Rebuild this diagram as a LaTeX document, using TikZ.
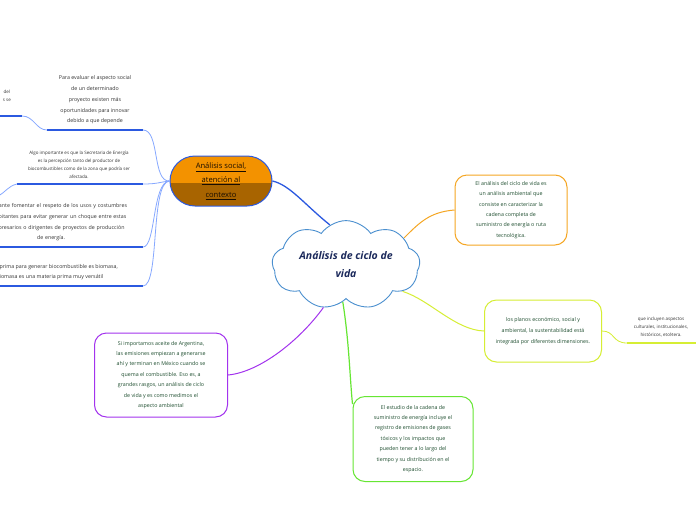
\documentclass[tikz,border=0pt]{standalone}
\usepackage{fontspec}
\setmainfont{Open Sans}
\usetikzlibrary{shapes.symbols,shapes.misc,calc}
\definecolor{ublue}{HTML}{2B59E0}
\definecolor{lblue}{HTML}{86A8FF}
\definecolor{corange}{HTML}{F5A623}
\definecolor{clime}{HTML}{D6EE34}
\definecolor{cgreen}{HTML}{66E633}
\definecolor{cpurple}{HTML}{A333EE}
\definecolor{ccloud}{HTML}{4A8FCF}
\definecolor{otop}{HTML}{F39200}
\definecolor{obot}{HTML}{A86400}
\definecolor{tgreen}{HTML}{1D4D2E}
\definecolor{tgray}{HTML}{333333}
\definecolor{tnavy}{HTML}{1C2A5C}
\tikzset{
  leaftext/.style={align=center,text=tgray,font=\fontsize{5.3}{10.7}\selectfont,inner sep=0pt},
  smalltext/.style={align=center,text=tgray,font=\fontsize{4.5}{8}\selectfont,inner sep=0pt},
  topicbox/.style={draw,line width=1pt,rounded corners=12pt,align=center,text=tgreen,inner sep=0pt,
     font=\fontsize{5.3}{10.4}\selectfont},
  uline/.style={ublue,line width=1.6pt},
  fanline/.style={lblue,line width=0.8pt},
}
\begin{document}
\begin{tikzpicture}[x=1pt,y=-1pt]
\fill[white] (0,0) rectangle (696,520);
\useasboundingbox (0,0) rectangle (696,520);
\clip (0,0) rectangle (696,520);

% central cloud
\node[cloud, cloud puffs=9, cloud puff arc=110, aspect=1.9, draw=ccloud, fill=white, line width=0.9pt,
  minimum width=148pt, minimum height=80pt, inner sep=0pt, align=center, text=tnavy,
  font=\fontsize{10.5}{18}\selectfont\itshape\bfseries] (cl) at (346,265) {Análisis de ciclo de\\vida};

% social node
\node[rounded rectangle, minimum width=102pt, minimum height=50pt, inner sep=0pt, draw=ublue, line width=1pt,
  path picture={\fill[otop] (path picture bounding box.north west) rectangle ([yshift=-2pt]path picture bounding box.east);
                \fill[obot] ([yshift=-2pt]path picture bounding box.west) rectangle (path picture bounding box.south east);},
  align=center, text=black!90!orange, font=\fontsize{7.6}{14.5}\selectfont] (soc) at (221,181)
  {\underline{Análisis social,}\\\underline{atención al}\\\underline{contexto}};

% left leaf texts
\node[leaftext] (t1) at (95,100) {Para evaluar el aspecto social\\de un determinado\\proyecto existen más\\oportunidades para innovar\\debido a que depende};
\coordinate (u1w) at (47,130); \coordinate (u1e) at (143,130);
\draw[uline] (u1w) -- (u1e);

\node[smalltext, anchor=east] (t0) at (11,96) {del\\s se};
\coordinate (u0w) at (0,116); \coordinate (u0e) at (22,116);
\draw[uline] (u0w) -- (u0e);
\draw[fanline] (u0e) .. controls (34,116) and (36,130) .. (u1w);

\node[smalltext] (t2) at (79,165) {Algo importante es que la Secretaria de Energía\\es la percepción tanto del productor de\\biocombustibles como de la zona que podría ser\\afectada.};
\coordinate (u2w) at (17,184); \coordinate (u2e) at (143,184);
\draw[uline] (u2w) -- (u2e);
\coordinate (c2) at (-2,196);
\draw[fanline] (u2w) .. controls (8,186) and (6,192) .. (c2);

\node[leaftext, text width=180pt] (t3) at (51,222.5) {Es importante fomentar el respeto de los usos y costumbres\\de los habitantes para evitar generar un choque entre estas\\y los empresarios o dirigentes de proyectos de producción\\de energía.};
\coordinate (u3w) at (0,247); \coordinate (u3e) at (143,247);
\draw[uline] (u3w) -- (u3e);

\node[leaftext] (t4) at (45,272) {La materia prima para generar biocombustible es biomasa,\\y la biomasa es una materia prima muy versátil};
\coordinate (u4w) at (0,286); \coordinate (u4e) at (143,286);
\draw[uline] (u4w) -- (u4e);

% fan connectors
\draw[fanline] (u1e) .. controls (160,130) and (152,182) .. (soc.west);
\draw[fanline] (u2e) .. controls (158,184) and (160,182) .. (soc.west);
\draw[fanline] (u3e) .. controls (156,247) and (152,182) .. (soc.west);
\draw[fanline] (u4e) .. controls (160,286) and (150,182) .. (soc.west);

% central to social
\draw[ublue, line width=1.3pt] (cl.112) .. controls (305,205) and (290,185) .. (soc.east);

% right boxes
\node[topicbox, draw=corange, minimum width=112pt, minimum height=70pt] (A) at (511,210)
  {El análisis del ciclo de vida es\\un análisis ambiental que\\consiste en caracterizar la\\cadena completa de\\suministro de energía o ruta\\tecnológica.};
\draw[corange, line width=1pt] (cl.25) .. controls (420,222) and (430,212) .. (A.west);

\node[topicbox, draw=clime, minimum width=117pt, minimum height=62pt, font=\fontsize{5.3}{11}\selectfont] (B) at (543,331)
  {los planos económico, social y\\ambiental, la sustentabilidad está\\integrada por diferentes dimensiones.};
\draw[clime, line width=1pt] (cl.-25) .. controls (430,300) and (455,330) .. (B.west);

\node[smalltext] (t6) at (661,327) {que incluyen aspectos\\culturales, institucionales,\\históricos, etcétera.};
\coordinate (u6w) at (627,343); \coordinate (u6e) at (696,343);
\draw[clime, line width=1.6pt] (u6w) -- (u6e);
\draw[clime, line width=0.8pt] (B.east) .. controls (615,331) and (612,343) .. (u6w);

\node[topicbox, draw=cgreen, minimum width=120pt, minimum height=85pt] (E) at (413,439)
  {El estudio de la cadena de\\suministro de energía incluye el\\registro de emisiones de gases\\tóxicos y los impactos que\\pueden tener a lo largo del\\tiempo y su distribución en el\\espacio.};
\draw[cgreen, line width=1.2pt] (cl.-95) .. controls (349,340) and (350,380) .. (E.150);

\node[topicbox, draw=cpurple, minimum width=133pt, minimum height=84pt] (D) at (161,375)
  {Si importamos aceite de Argentina,\\las emisiones empiezan a generarse\\ahí y terminan en México cuando se\\quema el combustible. Eso es, a\\grandes rasgos, un análisis de ciclo\\de vida y es como medimos el\\aspecto ambiental};
\draw[cpurple, line width=1pt] (cl.-118) .. controls (300,340) and (260,372) .. (D.east);
\end{tikzpicture}
\end{document}
